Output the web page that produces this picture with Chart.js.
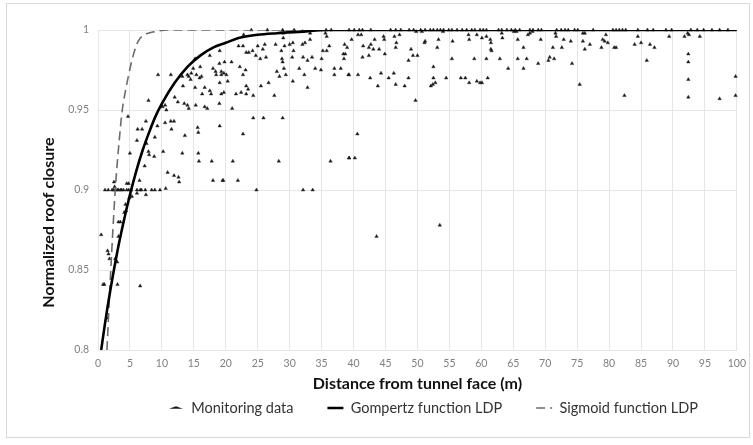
<!DOCTYPE html>
<html><head><meta charset="utf-8">
<script src="https://cdn.jsdelivr.net/npm/chart.js@4.4.1/dist/chart.umd.min.js"></script>
<style>
html,body{margin:0;padding:0;background:#fff;}
#wrap{position:relative;width:753px;height:445px;}
#frame{position:absolute;left:6px;top:3px;width:744px;height:435px;border:1px solid #d9d9d9;box-sizing:border-box;}
canvas{position:absolute;left:0;top:0;}
</style></head><body>
<div id="wrap"><div id="frame"></div><canvas id="c" width="753" height="445"></canvas></div>
<script>
// ---- tick labels ----
const xTicks = [0,5,10,15,20,25,30,35,40,45,50,55,60,65,70,75,80,85,90,95,100];
const yTicks = [0.8,0.85,0.9,0.95,1];
const seriesLabels = ['Monitoring data','Gompertz function LDP','Sigmoid function LDP'];
const axisTitles = {x:'Distance from tunnel face (m)', y:'Normalized roof closure'};

// ---- monitoring data [distance, closure] ----
const monitoringNear = [
[0.5,0.872],[1.65,0.860],[1.5,0.862],[1.8,0.857],[0.8,0.841],[1.0,0.841],[1.4,0.820],[3.05,0.841],[6.6,0.840],
[2.7,0.857],[3.0,0.855],[3.2,0.871],[3.2,0.880],[3.5,0.880],[4.1,0.886],[4.4,0.887],[4.3,0.891],[4.5,0.904],
[5.3,0.896],[6.1,0.898],[7.5,0.897],[4.9,0.895],[2.5,0.905],[2.6,0.902],
[1.1,0.900],[1.6,0.900],[2.2,0.900],[2.4,0.900],[2.7,0.900],[3.0,0.900],[3.2,0.900],[3.5,0.900],[3.7,0.900],
[4.0,0.900],[4.5,0.900],[4.8,0.900],[5.2,0.900],[6.1,0.900],[6.6,0.900],[6.8,0.900],[7.4,0.900],[8.4,0.900],
[8.9,0.900],[9.7,0.900],[4.8,0.904],[6.5,0.906],[10.6,0.901]
];
const monitoring10to20 = [
[9.4,0.972],[11.4,0.972],[13.2,0.971],[14.2,0.971],[14.0,0.972],[14.6,0.973],[14.9,0.976],[15.4,0.972],[15.9,0.970],
[16.2,0.971],[17.5,0.984],[18.0,0.976],[18.4,0.974],[18.5,0.972],[19.3,0.972],[19.0,0.979],[13.3,0.965],[15.2,0.964],
[16.7,0.964],[16.3,0.960],[17.5,0.962],[17.7,0.960],[7.9,0.956],[12.0,0.958],[12.5,0.955],[13.5,0.954],[14.0,0.953],
[14.2,0.951],[15.3,0.953],[16.7,0.952],[17.1,0.951],[19.0,0.954],[10.5,0.953],[10.7,0.950],[10.1,0.952],[4.7,0.946],
[7.5,0.943],[9.3,0.940],[10.5,0.942],[11.4,0.943],[11.9,0.943],[11.5,0.938],[6.2,0.938],[6.9,0.938],[8.9,0.933],
[13.6,0.934],[15.6,0.939],[15.7,0.936],[6.1,0.931],[7.6,0.929],[5.0,0.923],[7.9,0.924],[8.0,0.922],[10.2,0.924],
[8.8,0.921],[13.2,0.923],[15.7,0.923],[15.8,0.918],[17.8,0.918],[7.3,0.915],[10.9,0.911],[11.9,0.909],[12.6,0.908],
[12.7,0.905],[18.0,0.906],[19.6,0.906],[15.2,0.982],[16.0,0.977],[14.5,0.969],[22.8,0.997]
];
const monitoring20to40 = [
[24.0,1.0],[28.9,1.0],[30.7,0.999],[32.0,0.999],[35.7,1.0],[29.0,0.995],[22.0,0.990],[22.7,0.990],[23.2,0.986],
[23.6,0.986],[24.2,0.987],[24.7,0.984],[25.0,0.990],[25.8,0.988],[26.1,0.991],[25.4,0.982],[26.3,0.983],[27.8,0.991],
[28.7,0.987],[28.8,0.982],[28.9,0.980],[29.2,0.990],[30.0,0.991],[30.5,0.992],[30.6,0.987],[30.4,0.983],[32.0,0.991],
[32.4,0.992],[33.2,0.994],[32.1,0.983],[32.8,0.981],[33.5,0.983],[35.2,0.987],[35.8,0.987],[36.2,0.990],[35.0,0.982],
[38.4,0.985],[38.5,0.982],[19.05,0.987],[19.8,0.980],[20.9,0.980],[19.3,0.974],[19.7,0.973],[20.1,0.972],[20.3,0.968],
[22.2,0.977],[23.1,0.975],[22.7,0.972],[19.05,0.967],[19.3,0.960],[19.7,0.961],[21.6,0.960],[22.4,0.961],[23.2,0.960],
[23.2,0.965],[23.5,0.963],[24.3,0.959],[25.5,0.965],[26.7,0.967],[27.6,0.959],[28.0,0.974],[28.4,0.971],[29.1,0.976],
[29.4,0.972],[30.5,0.968],[31.5,0.976],[32.3,0.972],[32.8,0.964],[34.0,0.976],[34.9,0.975],[37.0,0.976],[37.0,0.972],
[38.0,0.976],[39.2,0.972],[21.0,0.951],[24.3,0.945],[25.9,0.945],[28.9,0.945],[19.05,0.940],[22.7,0.935],[21.1,0.918],
[28.3,0.918],[36.4,0.918],[39.3,0.920],[19.5,0.906],[21.9,0.906],[24.8,0.900],[32.1,0.900],[33.6,0.900],
[35.6,0.998],[35.8,0.996],[33.2,0.998],[29.0,0.998]
];
const monitoring40to60 = [
[39.7,0.994],[40.7,0.997],[41.2,0.997],[38.6,0.991],[39.0,0.989],[38.7,0.985],[41.5,0.990],[42.4,0.989],[42.7,0.991],
[43.1,0.988],[44.0,0.988],[43.3,0.994],[44.7,0.996],[44.8,0.994],[44.9,0.985],[41.4,0.983],[42.4,0.984],[46.4,0.996],
[47.2,0.997],[46.7,0.992],[46.6,0.989],[49.0,0.988],[48.6,0.981],[49.3,0.984],[50.0,0.984],[49.8,0.999],[50.7,0.999],
[51.1,0.992],[51.2,0.993],[53.3,0.994],[53.1,0.989],[52.5,0.977],[54.0,0.999],[55.5,0.993],[55.4,0.982],[58.0,0.997],
[58.1,0.994],[39.3,0.972],[40.7,0.972],[42.6,0.970],[43.8,0.965],[44.3,0.973],[45.5,0.970],[46.3,0.973],[46.6,0.966],
[48.0,0.965],[48.6,0.970],[49.7,0.956],[52.5,0.970],[52.8,0.967],[52.4,0.966],[52.1,0.965],[54.5,0.970],[56.8,0.970],
[57.5,0.970],[58.1,0.967],[40.6,0.935],[39.3,0.920],[40.2,0.920],[43.6,0.871],[53.5,0.878]
];
const monitoring60to100 = [
[59.3,0.997],[60.1,0.995],[60.8,0.996],[61.4,0.994],[61.5,0.992],[61.5,0.988],[63.3,0.995],[65.7,0.994],[67.3,0.997],
[68.0,0.999],[69.3,0.994],[66.6,0.989],[58.9,0.982],[60.8,0.982],[62.9,0.982],[65.7,0.982],[67.1,0.982],[64.2,0.976],
[66.6,0.976],[68.9,0.979],[59.3,0.968],[59.8,0.967],[60.1,0.967],[61.0,0.970],[70.5,0.981],[70.7,0.983],[71.4,0.982],
[71.2,0.989],[72.6,0.989],[72.9,0.994],[74.0,0.993],[74.2,0.979],[71.6,0.998],[75.4,0.966],[75.9,0.993],[76.2,0.988],
[77.0,0.991],[78.8,0.989],[79.0,0.994],[79.3,0.993],[79.5,0.997],[79.8,0.992],[80.8,0.989],[81.1,0.989],[82.4,0.959],
[84.0,0.991],[84.5,0.996],[85.0,0.992],[85.9,0.981],[86.4,0.991],[87.1,0.989],[89.4,0.996],[91.8,0.996],[92.5,0.997],
[92.4,0.985],[92.4,0.980],[92.4,0.969],[92.4,0.958],[94.2,0.996],[97.3,0.957],[99.8,0.971],[99.8,0.959],
[61.6,0.987],[63.2,0.998],[65.1,0.999],[65.5,0.999],[67.6,0.998],[71.7,0.996],[75.9,0.998],[76.2,0.998],[92.3,0.998]
];
const monitoringTopRow = [
[39.3,1.0],[40.1,1.0],[40.9,1.0],[41.4,1.0],[42.7,1.0],[45.8,1.0],[46.6,1.0],[47.4,1.0],[48.7,1.0],[49.4,1.0],
[50.5,1.0],[51.2,1.0],[52.0,1.0],[52.5,1.0],[53.1,1.0],[53.6,1.0],[54.1,1.0],[54.9,1.0],[55.4,1.0],[56.2,1.0],
[57.0,1.0],[57.7,1.0],[58.5,1.0],[59.0,1.0],[59.8,1.0],[60.3,1.0],[60.8,1.0],[62.7,1.0],[63.2,1.0],[64.0,1.0],
[64.7,1.0],[65.3,1.0],[66.0,1.0],[67.6,1.0],[68.1,1.0],[68.9,1.0],[69.4,1.0],[71.8,1.0],[72.5,1.0],[73.1,1.0],
[73.6,1.0],[74.6,1.0],[75.1,1.0],[77.5,1.0],[80.6,1.0],[81.1,1.0],[81.6,1.0],[82.1,1.0],[82.6,1.0],[84.5,1.0],
[86.0,1.0],[86.9,1.0],[88.9,1.0],[89.8,1.0],[92.8,1.0],[93.8,1.0],[94.8,1.0],[96.1,1.0],[97.3,1.0],[98.6,1.0],
[36.5,1.0],[30.7,1.0],[26.5,1.0]
];

// ---- fitted LDP curves ----
const gompX = [0.5,1,1.5,2,3,4,5,6,7,8,9,10,12,14,16,18,20,22,25,28,32,36,40,50,60,80,100];
const gompY = [0.800,0.814,0.827,0.839,0.861,0.880,0.897,0.912,0.925,0.936,0.946,0.954,0.967,0.977,0.984,0.989,0.992,0.995,0.997,0.998,0.999,1.0,1.0,1.0,1.0,1.0,1.0];
const sigX = [1.4,2.0,2.7,3.3,3.8,4.3,4.8,5.5,6.3,7.3,8.9,11,100];
const sigY = [0.800,0.850,0.900,0.930,0.950,0.962,0.972,0.984,0.993,0.997,0.999,1.0,1.0];

const toXY = arr => arr.map(p => ({x:p[0], y:p[1]}));
const zipXY = (xs, ys) => xs.map((x,i) => ({x, y:ys[i]}));
const monitoringAll = [].concat(monitoringNear, monitoring10to20, monitoring20to40, monitoring40to60, monitoring60to100, monitoringTopRow);

const FONT = 'Lato, "Open Sans", "Liberation Sans", sans-serif';
const LEG_PAD = 34, LEG_FONT = 14.5;

const layoutTweaks = {
  id: 'layoutTweaks',
  afterLayout(chart) {
    const lg = chart.legend;
    if (lg) {
      const top = 408 - LEG_PAD - LEG_FONT/2;
      const h = lg.bottom - lg.top;
      lg.top = top; lg.bottom = top + h;
      const shift = 433 - (lg.left + lg.right)/2;
      lg.left += shift; lg.right += shift;
    }
    const ys = chart.scales.y;
    if (ys && !ys._titleWrapped) {
      const orig = ys.drawTitle;
      ys.drawTitle = function() {
        const t = this.top, b = this.bottom;
        this.top = 135; this.bottom = 310;
        orig.call(this);
        this.top = t; this.bottom = b;
      };
      ys._titleWrapped = true;
    }
  }
};

new Chart(document.getElementById('c'), {
  type: 'scatter',
  data: {
    datasets: [
      {
        label: seriesLabels[0],
        data: toXY(monitoringAll),
        pointStyle: 'triangle',
        pointRadius: 2.0,
        pointHoverRadius: 2.0,
        backgroundColor: '#1a1a1a',
        borderColor: '#1a1a1a',
        borderWidth: 0.4,
        clip: false,
        order: 3,
        legendStyle: 'triangle'
      },
      {
        label: seriesLabels[1],
        type: 'line',
        data: zipXY(gompX, gompY),
        borderColor: '#000',
        backgroundColor: '#000',
        borderWidth: 2.6,
        pointRadius: 0,
        cubicInterpolationMode: 'monotone',
        fill: false,
        order: 1,
        legendStyle: 'line'
      },
      {
        label: seriesLabels[2],
        type: 'line',
        data: zipXY(sigX, sigY),
        borderColor: '#6b6b6b',
        backgroundColor: '#6b6b6b',
        borderWidth: 1.6,
        borderDash: [9,5],
        pointRadius: 0,
        cubicInterpolationMode: 'monotone',
        fill: false,
        order: 2,
        legendStyle: 'line'
      }
    ]
  },
  options: {
    responsive: false,
    animation: false,
    events: [],
    layout: { padding: { left: 0, right: 14, top: 30, bottom: 0 } },
    plugins: {
      tooltip: { enabled: false },
      legend: {
        position: 'bottom',
        labels: {
          usePointStyle: true,
          pointStyleWidth: 16,
          boxHeight: 2.4,
          padding: LEG_PAD,
          color: '#333',
          font: { family: FONT, size: LEG_FONT },
          generateLabels: chart => chart.data.datasets.map((ds, i) => ({
            text: ds.label,
            fillStyle: ds.borderColor,
            strokeStyle: ds.borderColor,
            lineWidth: ds.legendStyle === 'line' ? ds.borderWidth : 0,
            lineDash: ds.borderDash || [],
            pointStyle: ds.legendStyle,
            fontColor: '#333',
            hidden: false,
            datasetIndex: i
          }))
        }
      }
    },
    scales: {
      x: {
        type: 'linear',
        min: 0, max: 100,
        afterBuildTicks: s => { s.ticks = xTicks.map(v => ({value: v})); },
        afterFit: s => { const lg = s.chart.legend; s.height = 95 - (lg && lg.height ? lg.height : 58.5); },
        grid: { color: '#e6e6e6', drawTicks: false, lineWidth: 1 },
        border: { display: false },
        ticks: { padding: 7, color: '#808080', font: { family: FONT, size: 10.5 }, maxRotation: 0, autoSkip: false, callback: v => String(v) },
        title: { display: true, text: axisTitles.x, color: '#111', font: { family: FONT, size: 16, weight: 'bold' }, padding: { top: 0, bottom: -7 } }
      },
      y: {
        type: 'linear',
        min: 0.8, max: 1,
        afterBuildTicks: s => { s.ticks = yTicks.map(v => ({value: v})); },
        afterFit: s => { s.width = 98; },
        grid: { color: '#e6e6e6', drawTicks: false, lineWidth: 1 },
        border: { display: false },
        ticks: { padding: 9, color: '#808080', font: { family: FONT, size: 10.5 }, autoSkip: false, callback: v => String(v) },
        title: { display: true, text: axisTitles.y, color: '#111', font: { family: FONT, size: 16, weight: 'bold' }, padding: { top: 39, bottom: 0 } }
      }
    }
  },
  plugins: [layoutTweaks]
});
</script>
</body></html>
